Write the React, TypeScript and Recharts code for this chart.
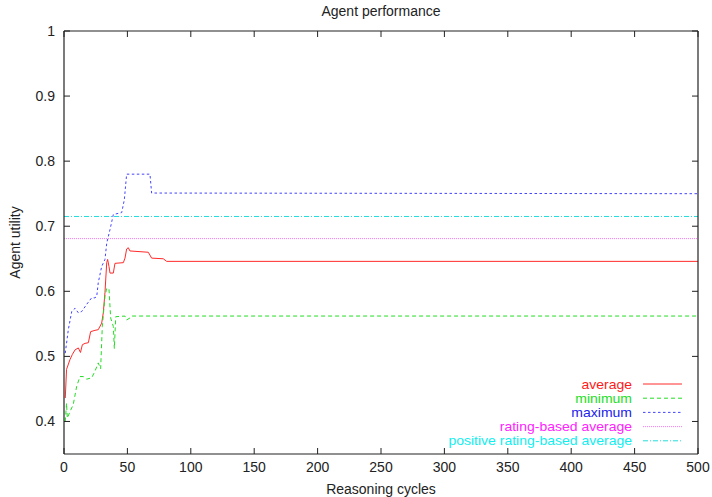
import React from 'react';
import { LineChart, Line, XAxis, YAxis, Legend } from 'recharts';

const FONT = '"Liberation Sans", Arial, Helvetica, sans-serif';
const AXIS_COLOR = '#222';

const titleText = 'Agent performance';
const xLabelText = 'Reasoning cycles';
const yLabelText = 'Agent utility';

const xTicks = [0, 50, 100, 150, 200, 250, 300, 350, 400, 450, 500];
const yTicks = [0.4, 0.5, 0.6, 0.7, 0.8, 0.9, 1];

const avgCycles = [1, 2, 4.7, 6.6, 8.7, 11.3, 13, 14.5, 16.6, 19.2, 21, 24.4, 27, 29.7, 31, 32.3, 33.7, 34.4, 35.5, 36.3, 38.9, 40.2, 46.8, 48.1, 49.4, 50.7, 52, 66.5, 69.1, 78.3, 81, 500];
const avgValues = [0.436, 0.48, 0.495, 0.503, 0.51, 0.513, 0.506, 0.518, 0.52, 0.521, 0.538, 0.54, 0.541, 0.551, 0.567, 0.598, 0.644, 0.649, 0.638, 0.628, 0.628, 0.643, 0.644, 0.651, 0.665, 0.667, 0.662, 0.66, 0.651, 0.65, 0.646, 0.646];

const minCycles = [1, 2, 2.6, 4.7, 7.3, 10, 12.6, 15.2, 17.9, 21.8, 24.4, 27, 28.9, 30.2, 32.3, 33.7, 35.5, 36.8, 38.9, 39.7, 40.8, 48, 49.4, 52, 53.4, 500];
const minValues = [0.4, 0.428, 0.405, 0.415, 0.426, 0.454, 0.469, 0.469, 0.465, 0.467, 0.477, 0.49, 0.481, 0.546, 0.592, 0.605, 0.603, 0.559, 0.546, 0.512, 0.561, 0.562, 0.556, 0.559, 0.562, 0.562];

const maxCycles = [1, 3.4, 6.1, 8.7, 11.3, 14, 17.9, 21.8, 24.4, 25.8, 27, 29.7, 32.3, 33.7, 36.3, 38.9, 45.5, 47.6, 49.4, 67.8, 69.1, 500];
const maxValues = [0.505, 0.541, 0.569, 0.574, 0.567, 0.569, 0.58, 0.59, 0.59, 0.592, 0.613, 0.638, 0.649, 0.674, 0.695, 0.718, 0.721, 0.741, 0.78, 0.78, 0.751, 0.75];

const constCycles = [0, 500];
const ratingAvgValues = [0.681, 0.681];
const positiveRatingAvgValues = [0.715, 0.715];

const toPoints = (cs: number[], vs: number[]) => cs.map((x, i) => ({ x, y: vs[i] }));

const series = [
  { name: 'average', data: toPoints(avgCycles, avgValues), stroke: '#ff2a2a', dash: undefined as string | undefined, text: '#ff1a1a' },
  { name: 'minimum', data: toPoints(minCycles, minValues), stroke: '#22dd22', dash: '4 3', text: '#22e022' },
  { name: 'maximum', data: toPoints(maxCycles, maxValues), stroke: '#4444ff', dash: '2.5 2.5', text: '#2222ee' },
  { name: 'rating-based average', data: toPoints(constCycles, ratingAvgValues), stroke: '#ff77ff', dash: '1 1', text: '#ff22ff' },
  { name: 'positive rating-based average', data: toPoints(constCycles, positiveRatingAvgValues), stroke: '#22dddd', dash: '5 2 1 2', text: '#11eeee' },
];

const BottomTick = (props: any) => {
  const { x, y, payload } = props;
  return (
    <g>
      <line x1={x} y1={y} x2={x} y2={y - 6} stroke={AXIS_COLOR} strokeWidth={1} />
      <text x={x} y={y + 18} textAnchor="middle" fontSize={14} fontFamily={FONT} fill="#222">{payload.value}</text>
    </g>
  );
};

const TopTick = (props: any) => {
  const { x, y } = props;
  return <line x1={x} y1={y} x2={x} y2={y + 6} stroke={AXIS_COLOR} strokeWidth={1} />;
};

const LeftTick = (props: any) => {
  const { x, y, payload } = props;
  return (
    <g>
      <line x1={x} y1={y} x2={x + 6} y2={y} stroke={AXIS_COLOR} strokeWidth={1} />
      <text x={x - 9} y={y + 5} textAnchor="end" fontSize={14} fontFamily={FONT} fill="#222">{String(payload.value)}</text>
    </g>
  );
};

const RightTick = (props: any) => {
  const { x, y } = props;
  return <line x1={x} y1={y} x2={x - 6} y2={y} stroke={AXIS_COLOR} strokeWidth={1} />;
};

const XLabel = (props: any) => {
  const vb = props.viewBox || {};
  return (
    <text x={vb.x + vb.width / 2} y={vb.y + 40} textAnchor="middle" fontSize={14} fontFamily={FONT} fill="#222">{xLabelText}</text>
  );
};

const TitleLabel = (props: any) => {
  const vb = props.viewBox || {};
  return (
    <text x={vb.x + vb.width / 2} y={vb.y + vb.height - 15} textAnchor="middle" fontSize={14} fontFamily={FONT} fill="#222">{titleText}</text>
  );
};

const YLabel = (props: any) => {
  const vb = props.viewBox || {};
  const cx = vb.x + 15;
  const cy = vb.y + vb.height / 2;
  return (
    <text x={cx} y={cy} transform={`rotate(-90 ${cx} ${cy})`} textAnchor="middle" dominantBaseline="central" fontSize={14} fontFamily={FONT} fill="#222">{yLabelText}</text>
  );
};

const LegendContent = () => (
  <svg width={270} height={75} style={{ display: 'block' }}>
    {series.map((s, i) => {
      const cy = 8 + i * 14.2;
      return (
        <g key={s.name}>
          <text transform={`translate(212 ${cy + 4.5}) scale(1.12 1)`} textAnchor="end" fontSize={12.5} fontFamily={FONT} fill={s.text}>{s.name}</text>
          <line x1={223} y1={cy} x2={262} y2={cy} stroke={s.stroke} strokeWidth={1} strokeDasharray={s.dash} />
        </g>
      );
    })}
  </svg>
);

export default function App() {
  return (
    <div style={{ position: 'absolute', left: 0, top: 0, width: 712, height: 497, background: '#fff' }}>
      <LineChart width={712} height={497} margin={{ top: 30, right: 13, bottom: 0, left: 0 }}>
        <XAxis
          type="number"
          dataKey="x"
          domain={[0, 500]}
          ticks={xTicks}
          interval={0}
          allowDataOverflow
          height={43}
          tickSize={0}
          tickMargin={0}
          tickLine={false}
          axisLine={{ stroke: AXIS_COLOR, strokeWidth: 1.2 }}
          tick={BottomTick}
          label={XLabel}
        />
        <XAxis
          xAxisId="top"
          orientation="top"
          type="number"
          dataKey="x"
          domain={[0, 500]}
          ticks={xTicks}
          interval={0}
          allowDataOverflow
          height={1}
          tickSize={0}
          tickMargin={0}
          tickLine={false}
          axisLine={{ stroke: AXIS_COLOR, strokeWidth: 1.2 }}
          tick={TopTick}
          label={TitleLabel}
        />
        <YAxis
          type="number"
          domain={[0.35, 1]}
          ticks={yTicks}
          interval={0}
          allowDataOverflow
          width={64}
          tickSize={0}
          tickMargin={0}
          tickLine={false}
          axisLine={{ stroke: AXIS_COLOR, strokeWidth: 1.2 }}
          tick={LeftTick}
          label={YLabel}
        />
        <YAxis
          yAxisId="right"
          orientation="right"
          type="number"
          domain={[0.35, 1]}
          ticks={yTicks}
          interval={0}
          allowDataOverflow
          width={1}
          tickSize={0}
          tickMargin={0}
          tickLine={false}
          axisLine={{ stroke: AXIS_COLOR, strokeWidth: 1.2 }}
          tick={RightTick}
        />
        {series.map((s) => (
          <Line
            key={s.name}
            name={s.name}
            data={s.data}
            dataKey="y"
            type="linear"
            stroke={s.stroke}
            strokeWidth={1}
            strokeDasharray={s.dash}
            dot={false}
            activeDot={false}
            isAnimationActive={false}
          />
        ))}
        <Legend
          layout="horizontal"
          align="center"
          verticalAlign="middle"
          content={LegendContent}
          wrapperStyle={{ left: 420, top: 376, width: 270, height: 75 }}
        />
      </LineChart>
    </div>
  );
}
